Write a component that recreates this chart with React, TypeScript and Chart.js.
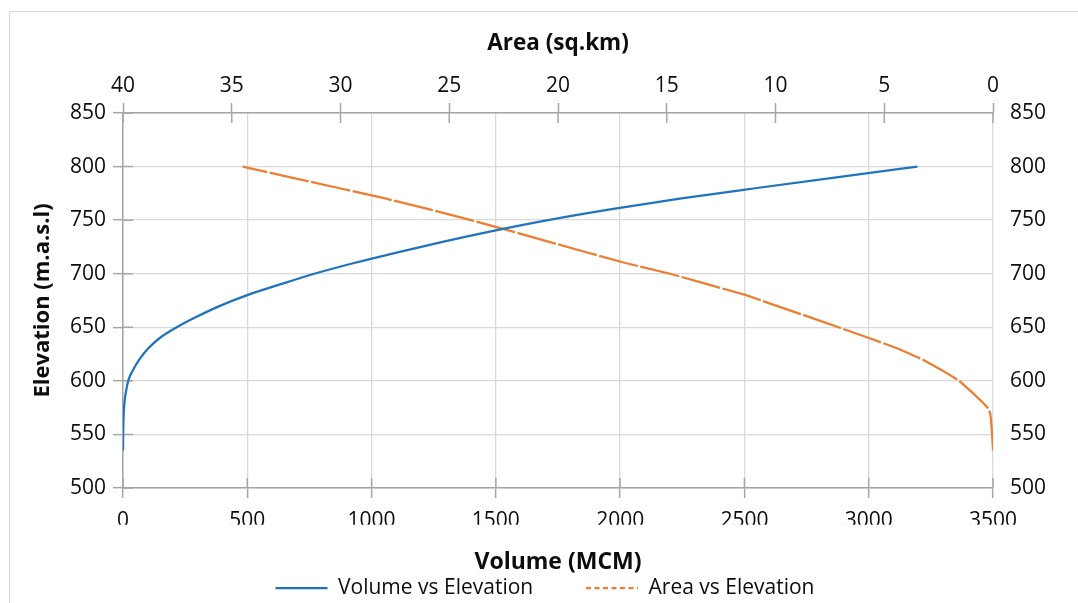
import React, { useEffect, useRef } from 'react';
import { Chart, registerables } from 'chart.js';

Chart.register(...registerables);

// ---- data ----
const volumeElevation = [535, 540, 550, 560, 570, 580, 590, 600, 610, 620, 630, 640, 650, 660, 670, 680, 690, 700, 710, 720, 730, 740, 750, 760, 770, 780, 790, 800];
const volumeMCM = [0, 0.2, 0.6, 1.5, 3, 6, 12, 21, 40, 66, 100, 148, 216, 298, 390, 500, 632, 770, 930, 1105, 1290, 1490, 1710, 1960, 2240, 2550, 2870, 3196];

const areaElevation = [535, 540, 550, 560, 565, 570, 575, 580, 590, 600, 610, 620, 630, 640, 650, 660, 670, 680, 690, 700, 710, 720, 730, 740, 750, 760, 770, 780, 790, 800];
const areaSqKm = [0, 0.01, 0.04, 0.08, 0.1, 0.13, 0.25, 0.48, 1.0, 1.55, 2.35, 3.25, 4.35, 5.7, 7.1, 8.5, 9.95, 11.35, 13.1, 14.85, 16.9, 18.7, 20.45, 22.2, 24.0, 25.9, 27.9, 30.1, 32.3, 34.5];

const volumeRange = [0, 3500];
const volumeStep = 500;
const areaRange = [0, 40];
const areaStep = 5;
const elevationRange = [500, 850];
const elevationStep = 50;

const seriesNames = ['Volume vs Elevation', 'Area vs Elevation'];
const axisTitles = { volume: 'Volume (MCM)', area: 'Area (sq.km)', elevation: 'Elevation (m.a.s.l)' };

const BLUE = '#1f74bd';
const ORANGE = '#ED7D31';
const GRID = '#d9d9d9';
const AXIS = '#a6a6a6';
const TEXT = '#0d0d0d';

const innerTicks = {
  id: 'innerTicks',
  beforeDatasetsDraw(chart: any) {
    const ctx = chart.ctx;
    const { x, x2, y } = chart.scales;
    ctx.save();
    ctx.strokeStyle = AXIS;
    ctx.lineWidth = 1.5;
    ctx.beginPath();
    y.ticks.forEach((_t: any, i: number) => {
      const py = y.getPixelForTick(i);
      ctx.moveTo(y.right, py);
      ctx.lineTo(y.right + 10, py);
    });
    x.ticks.forEach((_t: any, i: number) => {
      const px = x.getPixelForTick(i);
      ctx.moveTo(px, x.top);
      ctx.lineTo(px, x.top - 10);
    });
    x2.ticks.forEach((_t: any, i: number) => {
      const px = x2.getPixelForTick(i);
      ctx.moveTo(px, x2.bottom);
      ctx.lineTo(px, x2.bottom + 10);
    });
    ctx.stroke();
    ctx.restore();
  },
};

const plain = (v: any) => String(v);

export default function App() {
  const canvasRef = useRef<HTMLCanvasElement | null>(null);

  useEffect(() => {
    if (!canvasRef.current) return;
    Chart.defaults.font.family = "'Open Sans', sans-serif";
    const tickFont = { size: 21 };

    const chart = new Chart(canvasRef.current, {
      type: 'scatter',
      data: {
        datasets: [
          {
            label: seriesNames[0],
            data: volumeElevation.map((e, i) => ({ x: volumeMCM[i], y: e })),
            xAxisID: 'x',
            yAxisID: 'y',
            showLine: true,
            borderColor: BLUE,
            backgroundColor: BLUE,
            borderWidth: 2.25,
            pointRadius: 0,
            cubicInterpolationMode: 'monotone',
          },
          {
            label: seriesNames[1],
            data: areaElevation.map((e, i) => ({ x: areaSqKm[i], y: e })),
            xAxisID: 'x2',
            yAxisID: 'y',
            showLine: true,
            borderColor: ORANGE,
            backgroundColor: ORANGE,
            borderWidth: 2.25,
            borderDash: [40, 2.5],
            pointRadius: 0,
          },
        ],
      },
      options: {
        animation: false,
        responsive: false,
        devicePixelRatio: 1,
        layout: { padding: { left: 12, right: 0, top: 0, bottom: -5.5 } },
        plugins: {
          tooltip: { enabled: false },
          legend: {
            position: 'bottom',
            labels: {
              usePointStyle: true,
              pointStyle: 'line',
              pointStyleWidth: 52,
              boxHeight: 21,
              padding: 52.8,
              color: TEXT,
              font: { size: 21 },
              generateLabels: (c: any) => {
                const items = (Chart.defaults.plugins.legend.labels as any).generateLabels(c);
                items.forEach((it: any) => {
                  it.pointStyle = 'line';
                  if (it.datasetIndex === 1) it.lineDash = [5, 3.5];
                });
                return items;
              },
            },
          },
        },
        scales: {
          x: {
            type: 'linear',
            position: 'bottom',
            min: volumeRange[0],
            max: volumeRange[1],
            ticks: { stepSize: volumeStep, padding: 10, color: TEXT, font: tickFont, callback: plain },
            grid: { color: GRID, lineWidth: 1.3, tickLength: 10, tickColor: AXIS, tickWidth: 1.5 },
            border: { color: AXIS, width: 1.5 },
            title: { display: true, text: axisTitles.volume, color: TEXT, font: { size: 23, weight: 'bold' }, padding: { top: 0, bottom: -52 } },
            afterFit: (s: any) => { s.height = 36.7; },
          },
          x2: {
            type: 'linear',
            position: 'top',
            min: areaRange[0],
            max: areaRange[1],
            reverse: true,
            ticks: { stepSize: areaStep, padding: 4, color: TEXT, font: tickFont, callback: plain },
            grid: { drawOnChartArea: false, tickLength: 10, tickColor: AXIS, tickWidth: 1.5 },
            border: { color: AXIS, width: 1.5 },
            title: { display: true, text: axisTitles.area, color: TEXT, font: { size: 22.5, weight: 'bold' }, padding: { top: 30, bottom: 0 } },
            afterFit: (s: any) => { s.height = 113; },
          },
          y: {
            type: 'linear',
            position: 'left',
            min: elevationRange[0],
            max: elevationRange[1],
            ticks: { stepSize: elevationStep, padding: 7, color: TEXT, font: tickFont, callback: plain },
            grid: { color: GRID, lineWidth: 1.3, tickLength: 10, tickColor: AXIS, tickWidth: 1.5 },
            border: { color: AXIS, width: 1.5 },
            title: { display: true, text: axisTitles.elevation, color: TEXT, font: { size: 22, weight: 'bold' }, padding: { top: 18, bottom: 0 } },
            afterFit: (s: any) => { s.width = 111; },
          },
          y2: {
            type: 'linear',
            position: 'right',
            min: elevationRange[0],
            max: elevationRange[1],
            ticks: { stepSize: elevationStep, padding: 17, color: TEXT, font: tickFont, callback: plain },
            grid: { display: false, drawTicks: false },
            border: { display: false },
            afterFit: (s: any) => { s.width = 85; },
          },
        },
      } as any,
      plugins: [innerTicks],
    });
    return () => chart.destroy();
  }, []);

  return (
    <div style={{ position: 'fixed', left: 0, top: 0, width: 1078, height: 603, overflow: 'hidden', background: '#fff' }}>
      <div style={{ position: 'absolute', left: 9, top: 11, width: 1200, height: 700, border: '1px solid #d9d9d9', boxSizing: 'border-box' }} />
      <canvas ref={canvasRef} width={1078} height={603} style={{ position: 'absolute', left: 0, top: 0, width: 1078, height: 603 }} />
    </div>
  );
}
